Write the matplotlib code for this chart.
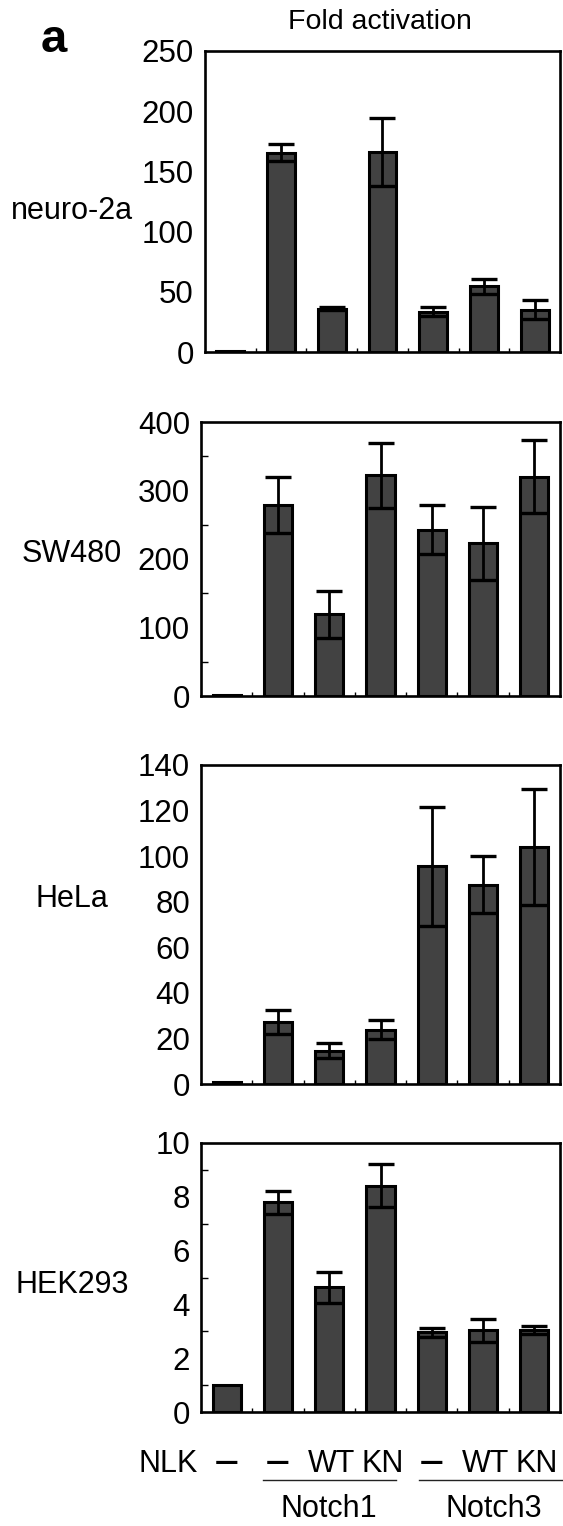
import matplotlib
matplotlib.use("Agg")
import matplotlib.pyplot as plt
from matplotlib.ticker import MultipleLocator, NullLocator
import matplotlib.transforms as mtrans

plt.rcParams['font.family'] = ['Liberation Sans', 'DejaVu Sans']

# ---------------- data ----------------
nlk_labels = ['—', '—', 'WT', 'KN', '—', 'WT', 'KN']
cell_lines = ['neuro-2a', 'SW480', 'HeLa', 'HEK293']

neuro2a = [1, 165.5, 36, 166.0, 33.5, 54.5, 35.0]
neuro2a_err = [0, 7, 1.5, 28.5, 3.8, 6.5, 8.0]

sw480 = [1, 279, 119, 322, 243, 223, 320]
sw480_err = [0, 41, 34, 47, 36, 53, 53]

hela = [1, 27.3, 14.6, 23.9, 95.5, 87.5, 104.0]
hela_err = [0, 5.3, 3.3, 4.3, 26.0, 12.5, 25.3]

hek293 = [1, 7.79, 4.63, 8.42, 2.96, 3.04, 3.04]
hek293_err = [0, 0.43, 0.58, 0.79, 0.17, 0.42, 0.14]

series = [neuro2a, sw480, hela, hek293]
errors = [neuro2a_err, sw480_err, hela_err, hek293_err]
ymax = [250, 400, 140, 10]
ystep = [50, 100, 20, 2]
yminor = [None, 50, None, 1]

# ---------------- layout (pixels) ----------------
W, H = 563, 1526
fig = plt.figure(figsize=(W / 100, H / 100), dpi=100)

# (left, right, top, bottom) in pixels
boxes = [(205, 560, 51, 352), (201, 560, 422, 696),
         (201, 560, 765, 1084), (201, 560, 1143, 1412)]
label_y = [211, 554, 899, 1285]

def fx(x):
    return x / W

def fy(y):
    return 1 - y / H

bar_color = '#424242'
axes = []
for i, (l, r, t, b) in enumerate(boxes):
    ax = fig.add_axes([fx(l), fy(b), (r - l) / W, (b - t) / H])
    axes.append(ax)
    x = list(range(len(nlk_labels)))
    ax.bar(x, series[i], width=0.55, color=bar_color, edgecolor='black',
           linewidth=2.2, zorder=2)
    idx = [k for k in x if errors[i][k] > 0]
    ax.errorbar([k for k in idx], [series[i][k] for k in idx],
                yerr=[errors[i][k] for k in idx], fmt='none', ecolor='black',
                elinewidth=2.0, capsize=9.5, capthick=2.4, zorder=3)
    ax.set_xlim(-0.5, 6.5)
    ax.set_ylim(0, ymax[i])
    ax.yaxis.set_major_locator(MultipleLocator(ystep[i]))
    if yminor[i]:
        ax.yaxis.set_minor_locator(MultipleLocator(yminor[i]))
    else:
        ax.yaxis.set_minor_locator(NullLocator())
    ax.set_xticks([k + 0.5 for k in range(6)])
    ax.set_xticklabels([])
    ax.tick_params(axis='x', direction='in', length=3, width=1)
    ax.tick_params(axis='y', which='major', length=0, pad=8, labelsize=22.5)
    ax.tick_params(axis='y', which='minor', direction='in', length=5, width=1)
    for s in ax.spines.values():
        s.set_linewidth(1.9)
    fig.text(fx(72), fy(label_y[i]), cell_lines[i], fontsize=22,
             ha='center', va='center')

# panel letter and title
fig.text(fx(54), fy(40), 'a', fontsize=34, fontweight='bold',
         family=['Liberation Sans'], ha='center', va='center')
fig.text(fx(380), fy(22), 'Fold activation', fontsize=20.5,
         ha='center', va='center')

# bottom annotation rows
axb = axes[-1]
trans = mtrans.blended_transform_factory(axb.transData, fig.transFigure)
fig.text(fx(198), fy(1472), 'NLK', fontsize=22, ha='right', va='baseline')
for k, lab in enumerate(nlk_labels):
    if lab == '—':
        axb.text(k, fy(1459), lab, fontsize=17, fontweight='bold',
                 family=['DejaVu Sans'], ha='center', va='center_baseline',
                 transform=trans)
    else:
        axb.text(k + 0.05, fy(1472), lab, fontsize=22, ha='center',
                 va='baseline', transform=trans)

groups = ['Notch1', 'Notch3']
group_span = [(0.7, 3.3), (3.75, 6.6)]
group_center = [2.0, 5.2]
for g, (a, b), c in zip(groups, group_span, group_center):
    axb.plot([a, b], [fy(1480), fy(1480)], color='#222222', lw=1.0,
             transform=trans, clip_on=False)
    axb.text(c, fy(1517), g, fontsize=22, ha='center', va='baseline',
             transform=trans)

fig.savefig('out.png', dpi=100)
